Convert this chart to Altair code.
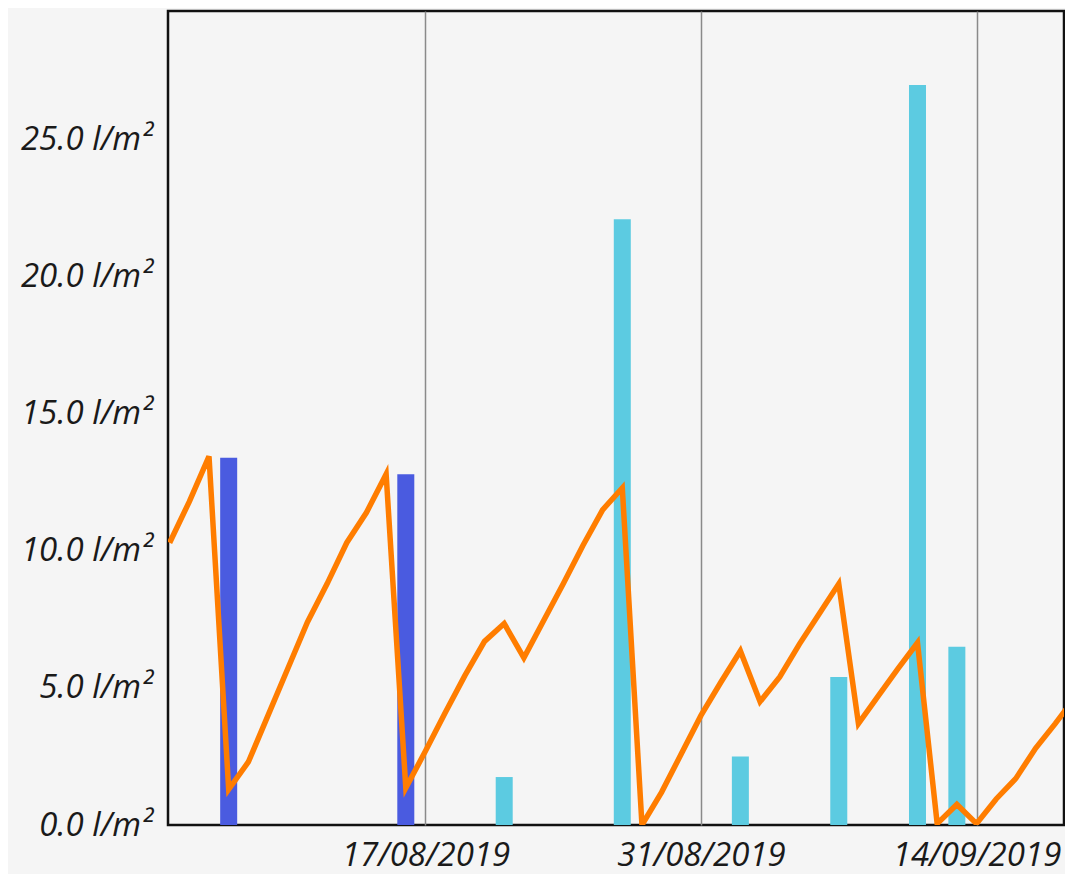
import altair as alt
import pandas as pd

# Daily soil-water / balance line (l/m²), from 04/08/2019
line_start = "2019-08-04"
line_values = [10.3, 11.8, 13.45, 1.3, 2.3, 4.0, 5.7, 7.4, 8.8, 10.3,
               11.4, 12.8, 1.35, 2.7, 4.1, 5.45, 6.7, 7.35, 6.1, 7.45,
               8.8, 10.2, 11.5, 12.3, 0.0, 1.2, 2.6, 4.0, 5.2, 6.35,
               4.5, 5.4, 6.6, 7.7, 8.8, 3.7, 4.7, 5.7, 6.65, 0.05,
               0.75, 0.05, 0.95, 1.7, 2.8, 3.7, 4.65]

# Bars
irrig_dates = ["2019-08-07", "2019-08-16"]
irrig_values = [13.4, 12.8]
rain_dates = ["2019-08-21", "2019-08-27", "2019-09-02", "2019-09-07", "2019-09-11", "2019-09-13"]
rain_values = [1.75, 22.1, 2.5, 5.4, 27.0, 6.5]

tick_dates = ["2019-08-17", "2019-08-31", "2019-09-14"]

line_df = pd.DataFrame({
    "date": pd.date_range(line_start, periods=len(line_values), freq="D"),
    "value": line_values,
})
bar_df = pd.DataFrame({
    "date": pd.to_datetime(irrig_dates + rain_dates),
    "value": irrig_values + rain_values,
    "kind": ["irrigation"] * len(irrig_dates) + ["rain"] * len(rain_dates),
})

x_dom = [
    alt.DateTime(year=2019, month=8, date=3, hours=22),
    alt.DateTime(year=2019, month=9, date=18, hours=10, minutes=40),
]
x_vals = [alt.DateTime(year=2019, month=int(d[5:7]), date=int(d[8:10])) for d in tick_dates]

x_enc = alt.X(
    "date:T",
    scale=alt.Scale(domain=x_dom, padding=0, nice=False),
    axis=alt.Axis(
        values=x_vals, format="%d/%m/%Y", title=None, domain=False, ticks=False,
        grid=True, gridColor="#8a8a8a", gridWidth=1.5, labelPadding=14,
        labelFont="Open Sans", labelFontStyle="italic", labelFontSize=33,
        labelColor="#1a1a1a", labelAngle=0,
    ),
)
y_scale = alt.Scale(domain=[0, 29.7], nice=False, zero=True, padding=0)
y_axis = alt.Axis(
    values=[0, 5, 10, 15, 20, 25], labelExpr="format(datum.value, '.1f') + ' l/m²'",
    title=None, domain=False, ticks=False, grid=False, labelPadding=16,
    labelFont="Open Sans", labelFontStyle="italic", labelFontSize=33, labelColor="#1a1a1a",
)

bars = alt.Chart(bar_df).mark_bar(size=17, clip=True).encode(
    x=x_enc,
    y=alt.Y("value:Q", scale=y_scale, axis=y_axis),
    color=alt.Color("kind:N", scale=alt.Scale(domain=["irrigation", "rain"],
                                              range=["#4A5BE0", "#5CCBE1"]), legend=None),
)
line = alt.Chart(line_df).mark_line(color="#FF7D00", strokeWidth=5.5, clip=True).encode(
    x=alt.X("date:T"),
    y=alt.Y("value:Q"),
)

chart = alt.layer(bars, line).properties(
    width=896, height=814, autosize="none",
    padding={"left": 160, "top": 3, "right": 1, "bottom": 49},
    background="#F5F5F5",
).configure_view(stroke="#111111", strokeWidth=2.5)

chart.save("out.html", embed_options={"renderer": "svg", "actions": False})
